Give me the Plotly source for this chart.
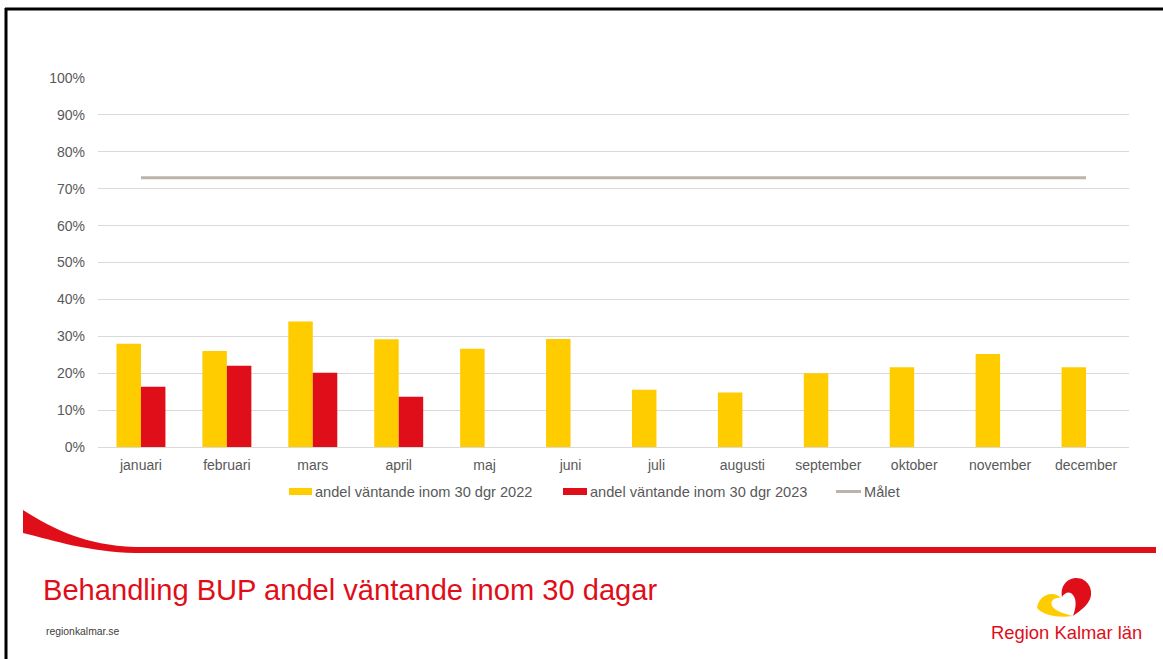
import plotly.graph_objects as go

# Data
months = ['januari', 'februari', 'mars', 'april', 'maj', 'juni', 'juli',
          'augusti', 'september', 'oktober', 'november', 'december']
share_2022 = [28.0, 26.0, 34.0, 29.2, 26.6, 29.3, 15.5, 14.8, 20.0, 21.6, 25.2, 21.6]
share_2023 = [16.3, 22.0, 20.1, 13.6, None, None, None, None, None, None, None, None]
target = [73.0] * 12

FONT = 'Arial, Liberation Sans, sans-serif'
YELLOW = '#FFCC00'
RED = '#E00E19'
TARGET_GREY = '#BCB4A8'
TEXT_GREY = '#595959'

# plot area in pixels (used to place decorations in paper coordinates)
L, R, T, B = 98, 1129, 78, 447
W_PX, H_PX = 1163, 659


def px(x):
    return (x - L) / (R - L)


def py(y):
    return (B - y) / (B - T)


def path(points_str):
    # convert "M x,y L x,y C ..." in pixels to paper coordinates
    out = []
    for tok in points_str.split():
        if ',' in tok:
            a, b = tok.split(',')
            out.append(f'{px(float(a)):.5f},{py(float(b)):.5f}')
        else:
            out.append(tok)
    return ' '.join(out)


fig = go.Figure()

fig.add_trace(go.Bar(
    x=months, y=share_2022, name='andel väntande inom 30 dgr 2022',
    marker=dict(color=YELLOW, line=dict(width=0))
))
fig.add_trace(go.Bar(
    x=months, y=share_2023, name='andel väntande inom 30 dgr 2023',
    marker=dict(color=RED, line=dict(width=0))
))
fig.add_trace(go.Scatter(
    x=months, y=target, name='Målet', mode='lines',
    line=dict(color=TARGET_GREY, width=3)
))

shapes = []
# slide border (top and left)
shapes.append(dict(type='line', xref='paper', yref='paper',
                   x0=px(5), x1=px(1163), y0=py(9), y1=py(9),
                   line=dict(color='black', width=3)))
shapes.append(dict(type='line', xref='paper', yref='paper',
                   x0=px(6), x1=px(6), y0=py(8), y1=py(659),
                   line=dict(color='black', width=3)))
# red swoosh
shapes.append(dict(type='path', xref='paper', yref='paper',
                   path=path('M 23,510 C 55,530 85,545 135,547 L 1156,547 L 1156,553 '
                             'L 135,553 C 90,552 55,541 23,533 Z'),
                   fillcolor=RED, line=dict(width=0)))
# logo: yellow and red parts around a white heart
shapes.append(dict(type='path', xref='paper', yref='paper',
                   path=path('M 1037,608 C 1038,600 1044,594 1052,594 C 1056,594 1059,596 1061,598 '
                             'C 1054,597 1050,601 1052,606 C 1055,611 1065,614 1073,616 '
                             'C 1060,618 1044,616 1037,608 Z'),
                   fillcolor=YELLOW, line=dict(width=0)))
shapes.append(dict(type='path', xref='paper', yref='paper',
                   path=path('M 1062,597 C 1060,587 1066,579 1075,578 C 1087,577 1094,589 1090,599 '
                             'C 1087,606 1080,611 1073,616 C 1076,608 1077,600 1073,595 '
                             'C 1070,591 1065,592 1062,597 Z'),
                   fillcolor=RED, line=dict(width=0)))
# legend swatches
shapes.append(dict(type='rect', xref='paper', yref='paper',
                   x0=px(289), x1=px(312), y0=py(488), y1=py(495),
                   fillcolor=YELLOW, line=dict(width=0)))
shapes.append(dict(type='rect', xref='paper', yref='paper',
                   x0=px(563), x1=px(587), y0=py(488), y1=py(495),
                   fillcolor=RED, line=dict(width=0)))
shapes.append(dict(type='line', xref='paper', yref='paper',
                   x0=px(836), x1=px(861), y0=py(491.5), y1=py(491.5),
                   line=dict(color=TARGET_GREY, width=3)))

annotations = [
    dict(text='andel väntande inom 30 dgr 2022', x=px(313), y=py(491.5),
         xanchor='left', yanchor='middle', font=dict(size=14.6, color=TEXT_GREY)),
    dict(text='andel väntande inom 30 dgr 2023', x=px(588), y=py(491.5),
         xanchor='left', yanchor='middle', font=dict(size=14.6, color=TEXT_GREY)),
    dict(text='Målet', x=px(862), y=py(491.5),
         xanchor='left', yanchor='middle', font=dict(size=14.6, color=TEXT_GREY)),
    dict(text='Behandling BUP andel väntande inom 30 dagar', x=px(41), y=py(590),
         xanchor='left', yanchor='middle', font=dict(size=29.1, color=RED)),
    dict(text='regionkalmar.se', x=px(44), y=py(631),
         xanchor='left', yanchor='middle', font=dict(size=10.4, color='#404040')),
    dict(text='Region Kalmar län', x=px(1066), y=py(632),
         xanchor='center', yanchor='middle', font=dict(size=18.4, color=RED)),
]
for a in annotations:
    a.update(xref='paper', yref='paper', showarrow=False)

fig.update_layout(
    width=W_PX, height=H_PX,
    margin=dict(l=L, r=W_PX - R, t=T, b=H_PX - B),
    paper_bgcolor='white', plot_bgcolor='white',
    font=dict(family=FONT, color=TEXT_GREY, size=14),
    barmode='group', bargap=0.43, bargroupgap=0,
    showlegend=False,
    shapes=shapes,
    annotations=annotations,
    xaxis=dict(showgrid=False, showline=False, ticks='',
               tickfont=dict(size=14, color=TEXT_GREY), ticklabelstandoff=8),
    yaxis=dict(range=[0, 100], dtick=10, ticksuffix='%',
               showgrid=True, gridcolor='#D9D9D9', gridwidth=1,
               zeroline=True, zerolinecolor='#D9D9D9', zerolinewidth=1,
               showline=False, ticks='',
               tickfont=dict(size=14, color=TEXT_GREY), ticklabelstandoff=12),
)

# drop the default page margin so the figure sits at the window's top-left corner
fig.write_html('out.html', config={'displayModeBar': False},
               post_script="document.body.style.margin='0';")
